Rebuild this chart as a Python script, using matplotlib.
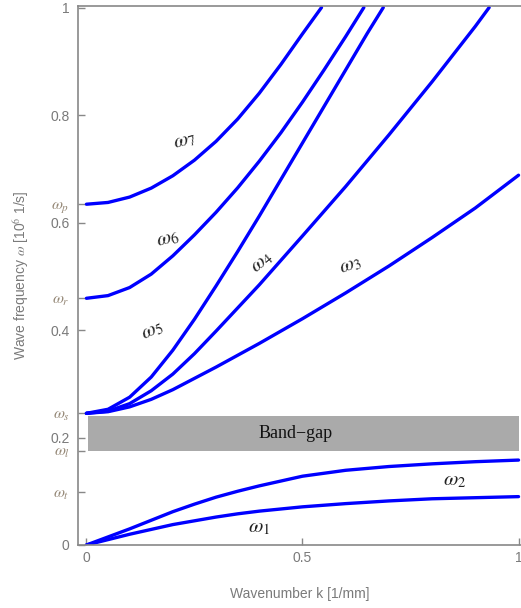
import matplotlib
matplotlib.use("Agg")
import matplotlib.pyplot as plt

plt.rcParams['mathtext.fontset'] = 'stix'

# ---- data ----
k1 = [0, 0.05, 0.1, 0.15, 0.2, 0.25, 0.3, 0.35, 0.4, 0.5, 0.6, 0.7, 0.8, 0.9, 1.0]
w1 = [0, 0.010, 0.020, 0.029, 0.038, 0.045, 0.052, 0.058, 0.063, 0.071, 0.077, 0.082, 0.086, 0.088, 0.090]
k2 = [0, 0.05, 0.1, 0.15, 0.2, 0.25, 0.3, 0.35, 0.4, 0.5, 0.6, 0.7, 0.8, 0.9, 1.0]
w2 = [0, 0.015, 0.030, 0.046, 0.062, 0.076, 0.089, 0.100, 0.110, 0.128, 0.139, 0.146, 0.151, 0.155, 0.158]
k3 = [0, 0.05, 0.1, 0.15, 0.2, 0.3, 0.4, 0.5, 0.6, 0.7, 0.8, 0.9, 1.0]
w3 = [0.245, 0.248, 0.257, 0.271, 0.289, 0.331, 0.375, 0.421, 0.469, 0.519, 0.572, 0.627, 0.688]
k4 = [0, 0.05, 0.1, 0.15, 0.2, 0.25, 0.3, 0.35, 0.4, 0.5, 0.6, 0.7, 0.8, 0.9, 0.932]
w4 = [0.245, 0.249, 0.263, 0.287, 0.318, 0.356, 0.398, 0.441, 0.484, 0.575, 0.667, 0.763, 0.862, 0.965, 1.0]
k5 = [0, 0.05, 0.1, 0.15, 0.2, 0.25, 0.3, 0.35, 0.4, 0.45, 0.5, 0.55, 0.6, 0.65, 0.687]
w5 = [0.245, 0.2525, 0.275, 0.3125, 0.3625, 0.420, 0.482, 0.546, 0.612, 0.680, 0.748, 0.816, 0.884, 0.952, 1.0]
k6 = [0, 0.05, 0.1, 0.15, 0.2, 0.25, 0.3, 0.35, 0.4, 0.45, 0.5, 0.55, 0.6, 0.642]
w6 = [0.459, 0.464, 0.479, 0.504, 0.538, 0.577, 0.619, 0.6645, 0.714, 0.767, 0.824, 0.884, 0.946, 1.0]
k7 = [0, 0.05, 0.1, 0.15, 0.2, 0.25, 0.3, 0.35, 0.4, 0.45, 0.5, 0.544]
w7 = [0.634, 0.6373, 0.6473, 0.664, 0.687, 0.716, 0.751, 0.7925, 0.8405, 0.894, 0.951, 1.0]

curves = [(k1, w1), (k2, w2), (k3, w3), (k4, w4), (k5, w5), (k6, w6), (k7, w7)]

gap_low, gap_high = 0.175, 0.2405
num_ticks = [0, 0.2, 0.4, 0.6, 0.8, 1.0]
num_labels = ["0", "0.2", "0.4", "0.6", "0.8", "1"]
omega_ticks = [0.634, 0.459, 0.245, 0.175, 0.098]
omega_labels = [r"$\omega_p$", r"$\omega_r$", r"$\omega_s$", r"$\omega_l$", r"$\omega_t$"]
x_ticks = [0, 0.5, 1]
x_labels = ["0", "0.5", "1"]

# curve labels: (text, x, y, rotation)
curve_labels = [
    (r"$\omega_1$", 0.40, 0.033, 0),
    (r"$\omega_2$", 0.853, 0.121, 0),
    (r"$\omega_3$", 0.610, 0.521, 20),
    (r"$\omega_4$", 0.406, 0.526, 40),
    (r"$\omega_5$", 0.153, 0.400, 25),
    (r"$\omega_6$", 0.188, 0.571, 15),
    (r"$\omega_7$", 0.228, 0.753, 15),
]

W, H = 521, 608
fig = plt.figure(figsize=(W / 100, H / 100), dpi=100)
ax = fig.add_axes([78 / W, (608 - 545) / H, 443 / W, (545 - 6) / H])
ax.set_xlim(-0.0195, 1.0057)
ax.set_ylim(0, 1.0028)

gray = '#888888'
txtgray = '#7a7a7a'
omgray = '#958877'

ax.fill_between([0.004, 1.0], gap_low, gap_high, color='#aaaaaa', lw=0, zorder=1)
ax.text(0.485, (gap_low + gap_high) / 2, "Band\u2212gap", family='Liberation Serif',
        fontsize=13, ha='center', va='center', color='#111111', zorder=3)

for k, w in curves:
    ax.plot(k, w, color='#0000ff', lw=2.4, solid_capstyle='round', solid_joinstyle='round',
            zorder=2, clip_on=True)

for t, x, y, r in curve_labels:
    ax.text(x, y, t, fontsize=15, color='#222222', ha='center', va='center', rotation=r)

for s in ['left', 'bottom', 'top']:
    ax.spines[s].set_color(gray)
    ax.spines[s].set_linewidth(1.2)
ax.spines['right'].set_visible(False)

ax.set_yticks(num_ticks + omega_ticks)
ax.set_yticklabels(num_labels + omega_labels)
for lbl in ax.get_yticklabels()[len(num_ticks):]:
    lbl.set_color(omgray)
    lbl.set_fontsize(11.5)
for lbl in ax.get_yticklabels()[:len(num_ticks)]:
    lbl.set_color(txtgray)
    lbl.set_fontsize(10)
    lbl.set_family('Liberation Sans')
ax.set_xticks(x_ticks)
ax.set_xticklabels(x_labels, color=txtgray, fontsize=10, family='Liberation Sans')
ax.tick_params(axis='both', direction='in', length=5, width=1, color=gray, pad=4)
ax.tick_params(axis='y', pad=6)

ax.set_xlabel("Wavenumber k [1/mm]", color=txtgray, fontsize=10, family='Liberation Sans', labelpad=16)
ax.set_ylabel(r"Wave frequency $\mathit{\omega}$ [10$^6$ 1/s]", color=txtgray, fontsize=10,
              family='Liberation Sans', labelpad=14)

fig.savefig("out.png", dpi=100)
